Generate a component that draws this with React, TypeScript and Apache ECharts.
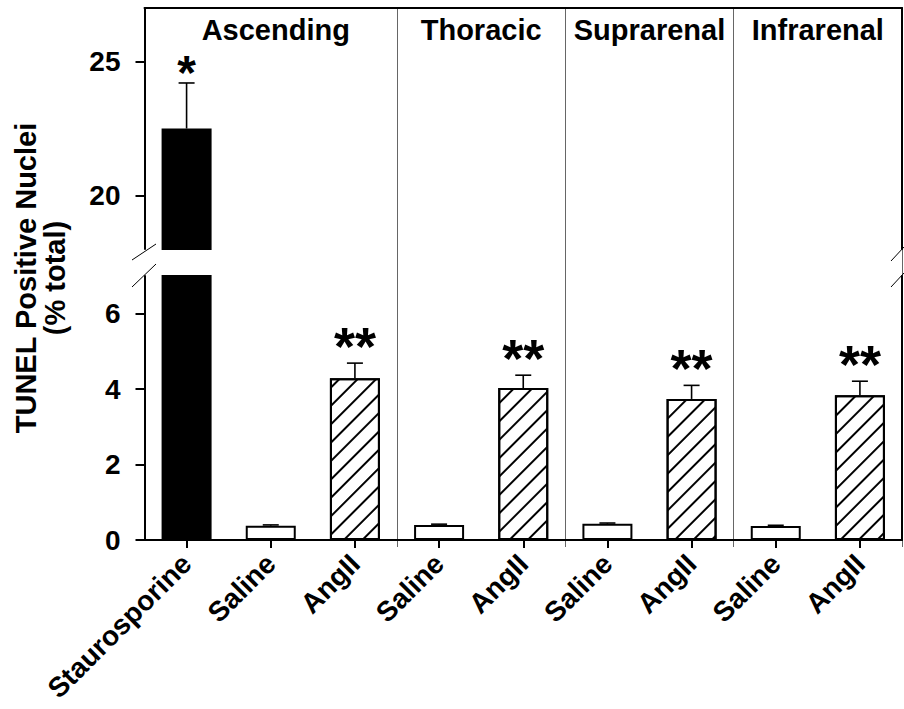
import React, { useEffect, useRef } from "react";
import * as echarts from "echarts";

const categories = ["Staurosporine", "Saline", "AngII", "Saline", "AngII", "Saline", "AngII", "Saline", "AngII"];
const groups = ["Ascending", "Ascending", "Ascending", "Thoracic", "Thoracic", "Suprarenal", "Suprarenal", "Infrarenal", "Infrarenal"];
const treatments = ["staurosporine", "saline", "angii", "saline", "angii", "saline", "angii", "saline", "angii"];
const means = [22.5, 0.38, 4.29, 0.4, 4.03, 0.43, 3.74, 0.37, 3.84];
const sems = [1.7, 0.02, 0.4, 0.02, 0.34, 0.02, 0.36, 0.02, 0.37];
const stars = ["*", "", "**", "", "**", "", "**", "", "**"];
const upperRange = [18, 27];
const lowerRange = [0, 7];
const upperTicks = [20, 25];
const lowerTicks = [0, 2, 4, 6];
const yTitle = ["TUNEL Positive Nuclei", "(% total)"];

const FONT = "'Liberation Sans', Arial, sans-serif";
const BLACK = "#000";

function itemStyleFor(t: string) {
  if (t === "staurosporine") return { color: BLACK, borderColor: BLACK, borderWidth: 2 };
  if (t === "saline") return { color: "#fff", borderColor: BLACK, borderWidth: 2 };
  return {
    color: "#fff",
    borderColor: BLACK,
    borderWidth: 2,
    decal: {
      symbol: "rect",
      symbolSize: 1,
      dashArrayX: [1, 0],
      dashArrayY: [1.6, 10.4],
      rotation: -Math.PI / 4,
      color: BLACK,
      backgroundColor: "#fff",
    },
  };
}

const axisLineStyle = { color: BLACK, width: 2 };

function errorRenderItem(params: any, api: any) {
  const i = params.dataIndex;
  const cs = params.coordSys;
  const x = api.value(0);
  const m = api.value(1);
  const e = api.value(2);
  const base = api.coord([x, m]);
  const top = api.coord([x, m + e]);
  const yMin = cs.y;
  const yMax = cs.y + cs.height;
  if (top[1] > yMax || base[1] < yMin) return { type: "group", children: [] };
  const children: any[] = [
    { type: "line", shape: { x1: base[0], y1: base[1], x2: top[0], y2: top[1] }, style: { stroke: BLACK, lineWidth: 1.6 } },
    { type: "line", shape: { x1: top[0] - 8, y1: top[1], x2: top[0] + 8, y2: top[1] }, style: { stroke: BLACK, lineWidth: 1.6 } },
  ];
  if (stars[i] && top[1] > yMin + 30) {
    const double = stars[i].length > 1;
    children.push({
      type: "text",
      x: top[0],
      y: top[1] - (double ? 17 : 10),
      style: {
        text: stars[i], align: "center", verticalAlign: "middle",
        font: `bold ${double ? 54 : 48}px ${FONT}`, fill: BLACK,
      },
    });
  }
  return { type: "group", children };
}

export default function App() {
  const ref = useRef<HTMLDivElement>(null);
  useEffect(() => {
    if (!ref.current) return;
    const chart = echarts.init(ref.current, undefined, { renderer: "svg" });
    const barData = means.map((v, i) => ({ value: v, itemStyle: itemStyleFor(treatments[i]) }));
    const errData = means.map((v, i) => [i, v, sems[i]]);
    const gridBase = { left: 144.5, right: 2, outerBoundsMode: "none", containLabel: false };
    const option: any = {
      animation: false,
      backgroundColor: "#fff",
      grid: [
        { ...gridBase, top: 8, height: 241 },
        { ...gridBase, top: 276, height: 264 },
        { ...gridBase, top: 8, height: 539 },
      ],
      xAxis: [
        {
          gridIndex: 0, type: "category", data: categories, position: "top",
          axisLine: { show: true, onZero: false, lineStyle: axisLineStyle },
          axisTick: { show: false }, axisLabel: { show: false }, splitLine: { show: false },
        },
        {
          gridIndex: 1, type: "category", data: categories, position: "bottom",
          axisLine: { show: true, onZero: false, lineStyle: axisLineStyle },
          axisTick: { show: true, alignWithLabel: true, interval: 0, length: 8, lineStyle: axisLineStyle },
          axisLabel: { rotate: 45, margin: 19, interval: 0, color: BLACK, fontSize: 28, fontWeight: "bold", fontFamily: FONT },
          splitLine: { show: false },
        },
        {
          gridIndex: 2, type: "category", data: categories,
          axisLine: { show: false }, axisTick: { show: false }, axisLabel: { show: false },
          splitLine: {
            show: true,
            interval: (i: number) => i > 0 && groups[i] !== groups[i - 1],
            lineStyle: { color: "#666", width: 1 },
          },
        },
      ],
      yAxis: [
        {
          gridIndex: 0, type: "value", min: upperRange[0], max: upperRange[1],
          axisLine: { show: true, lineStyle: axisLineStyle },
          axisTick: { show: true, customValues: upperTicks, length: 9, lineStyle: axisLineStyle },
          axisLabel: { customValues: upperTicks, margin: 24, color: BLACK, fontSize: 28, fontWeight: "bold", fontFamily: FONT },
          splitLine: { show: false },
        },
        {
          gridIndex: 0, type: "value", position: "right", min: upperRange[0], max: upperRange[1],
          axisLine: { show: true, lineStyle: axisLineStyle },
          axisTick: { show: false }, axisLabel: { show: false }, splitLine: { show: false },
        },
        {
          gridIndex: 1, type: "value", min: lowerRange[0], max: lowerRange[1],
          axisLine: { show: true, lineStyle: axisLineStyle },
          axisTick: { show: true, customValues: lowerTicks, length: 9, lineStyle: axisLineStyle },
          axisLabel: { customValues: lowerTicks, margin: 24, color: BLACK, fontSize: 28, fontWeight: "bold", fontFamily: FONT },
          splitLine: { show: false },
        },
        {
          gridIndex: 1, type: "value", position: "right", min: lowerRange[0], max: lowerRange[1],
          axisLine: { show: true, lineStyle: axisLineStyle },
          axisTick: { show: false }, axisLabel: { show: false }, splitLine: { show: false },
        },
        { gridIndex: 2, type: "value", show: false, min: 0, max: 1 },
      ],
      series: [
        { type: "bar", xAxisIndex: 0, yAxisIndex: 0, data: barData, barWidth: 50, clip: true, z: 2 },
        { type: "bar", xAxisIndex: 1, yAxisIndex: 2, data: barData, barWidth: 50, clip: true, z: 2 },
        { type: "custom", xAxisIndex: 0, yAxisIndex: 0, data: errData, renderItem: errorRenderItem, clip: true, z: 3 },
        { type: "custom", xAxisIndex: 1, yAxisIndex: 2, data: errData, renderItem: errorRenderItem, clip: true, z: 3 },
      ],
    };
    chart.setOption(option);

    const groupNames: string[] = [];
    groups.forEach((g) => { if (!groupNames.includes(g)) groupNames.push(g); });
    const groupTexts = groupNames.map((g) => {
      const first = groups.indexOf(g);
      const last = groups.lastIndexOf(g);
      const x0 = chart.convertToPixel({ xAxisIndex: 2 } as any, first) as any as number;
      const x1 = chart.convertToPixel({ xAxisIndex: 2 } as any, last) as any as number;
      const shift = first === 0 ? 5 : 0;
      return {
        type: "text", x: (x0 + x1) / 2 + shift, y: 30,
        style: { text: g, align: "center", verticalAlign: "middle", font: `bold 29px ${FONT}`, fill: BLACK },
      };
    });
    const slash = (x1: number, y1: number, x2: number, y2: number) => ({
      type: "line", shape: { x1, y1, x2, y2 }, style: { stroke: BLACK, lineWidth: 1 },
    });
    chart.setOption({
      graphic: [
        ...groupTexts,
        {
          type: "text", x: 40, y: 278, rotation: Math.PI / 2,
          style: { text: yTitle.join("\n"), align: "center", verticalAlign: "middle", lineHeight: 29, font: `bold 29px ${FONT}`, fill: BLACK },
        },
        slash(132, 260, 156, 244),
        slash(132, 287, 156, 264),
        slash(891, 261, 904, 247),
        slash(891, 287, 904, 273),
      ],
    });
    return () => chart.dispose();
  }, []);
  return <div ref={ref} style={{ width: 904, height: 709, position: "absolute", left: 0, top: 0 }} />;
}
